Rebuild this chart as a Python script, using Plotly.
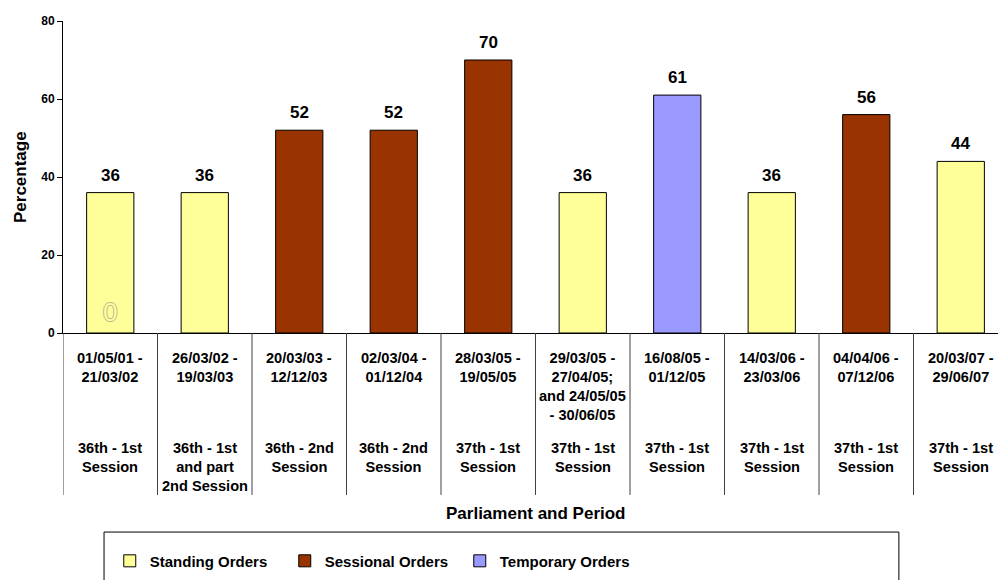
import plotly.graph_objects as go

# Periods, parliament sessions, order types and percentages
periods = [
    "01/05/01 -<br>21/03/02",
    "26/03/02 -<br>19/03/03",
    "20/03/03 -<br>12/12/03",
    "02/03/04 -<br>01/12/04",
    "28/03/05 -<br>19/05/05",
    "29/03/05 -<br>27/04/05;<br>and 24/05/05<br>- 30/06/05",
    "16/08/05 -<br>01/12/05",
    "14/03/06 -<br>23/03/06",
    "04/04/06 -<br>07/12/06",
    "20/03/07 -<br>29/06/07",
]
sessions = [
    "36th - 1st<br>Session",
    "36th - 1st<br>and part<br>2nd Session",
    "36th - 2nd<br>Session",
    "36th - 2nd<br>Session",
    "37th - 1st<br>Session",
    "37th - 1st<br>Session",
    "37th - 1st<br>Session",
    "37th - 1st<br>Session",
    "37th - 1st<br>Session",
    "37th - 1st<br>Session",
]
order_types = [
    "Standing Orders", "Standing Orders", "Sessional Orders", "Sessional Orders",
    "Sessional Orders", "Standing Orders", "Temporary Orders", "Standing Orders",
    "Sessional Orders", "Standing Orders",
]
percentages = [36, 36, 52, 52, 70, 36, 61, 36, 56, 44]

series_names = ["Standing Orders", "Sessional Orders", "Temporary Orders"]
series_colors = ["#FFFF99", "#993300", "#9999FF"]

FONT = "Liberation Sans, Arial, sans-serif"

idx = list(range(len(periods)))

fig = go.Figure()
for name, color in zip(series_names, series_colors):
    xs = [i for i in idx if order_types[i] == name]
    ys = [percentages[i] for i in idx if order_types[i] == name]
    fig.add_trace(go.Bar(
        name=name, x=xs, y=ys, width=0.5,
        marker=dict(color=color, line=dict(color="black", width=1)),
        hoverinfo="skip",
    ))

annotations = []
# value labels above the bars
for i, v in zip(idx, percentages):
    annotations.append(dict(
        x=i, y=v, xref="x", yref="y", text=str(v), showarrow=False,
        yanchor="bottom", yshift=6,
        font=dict(family=FONT, size=17, color="black", weight="bold"),
    ))
# two-level category labels
for i in idx:
    annotations.append(dict(
        x=i, y=-0.047, xref="x", yref="paper", text=periods[i], showarrow=False,
        yanchor="top", align="center",
        font=dict(family=FONT, size=14.6, color="black", weight="bold"),
    ))
    annotations.append(dict(
        x=i, y=-0.337, xref="x", yref="paper", text=sessions[i], showarrow=False,
        yanchor="top", align="center",
        font=dict(family=FONT, size=14.6, color="black", weight="bold"),
    ))
# stray hollow zero inside the first bar
annotations.append(dict(
    x=0, y=5.4, xref="x", yref="y", text="0", showarrow=False,
    font=dict(family=FONT, size=26, color="#FFFF99",
              shadow="1px 0 #b8b890, -1px 0 #b8b890, 0 1px #b8b890, 0 -1px #b8b890"),
))
# axis titles
annotations.append(dict(
    x=-0.046, y=0.5, xref="paper", yref="paper", text="Percentage",
    textangle=-90, showarrow=False, xanchor="center", yanchor="middle",
    font=dict(family=FONT, size=17, color="black", weight="bold"),
))
annotations.append(dict(
    x=0.506, y=-0.58, xref="paper", yref="paper", text="Parliament and Period",
    showarrow=False, xanchor="center", yanchor="middle",
    font=dict(family=FONT, size=17, color="black", weight="bold"),
))

shapes = []
# vertical separators between category groups
for i in range(len(periods)):
    shapes.append(dict(
        type="line", xref="x", yref="paper", x0=i - 0.5, x1=i - 0.5,
        y0=0, y1=-0.519, line=dict(color="#404040", width=1),
    ))
# legend frame
shapes.append(dict(
    type="rect", xref="paper", yref="paper",
    x0=0.0439, x1=0.894, y0=-0.86, y1=-0.638,
    line=dict(color="black", width=1), fillcolor="rgba(0,0,0,0)",
))

fig.update_layout(
    width=998, height=580,
    margin=dict(l=63, r=0, t=21, b=247),
    paper_bgcolor="white", plot_bgcolor="white",
    barmode="overlay",
    showlegend=True,
    legend=dict(
        orientation="h", x=0.05, y=-0.731, xanchor="left", yanchor="middle",
        entrywidth=130, bgcolor="rgba(0,0,0,0)", borderwidth=0,
        font=dict(family=FONT, size=15, color="black", weight="bold"),
        traceorder="normal",
    ),
    xaxis=dict(
        range=[-0.5, 9.5 - 10 / 94.5], showticklabels=False, ticks="",
        showgrid=False, zeroline=False, showline=True, linecolor="black",
        linewidth=1, fixedrange=True,
    ),
    yaxis=dict(
        range=[0, 80], tickvals=[0, 20, 40, 60, 80], showgrid=False,
        zeroline=False, showline=True, linecolor="black", linewidth=1,
        ticks="outside", ticklen=5, tickcolor="black",
        tickfont=dict(family=FONT, size=12, color="black", weight="bold"),
        fixedrange=True,
    ),
    annotations=annotations,
    shapes=shapes,
)

fig.write_html("out.html")
